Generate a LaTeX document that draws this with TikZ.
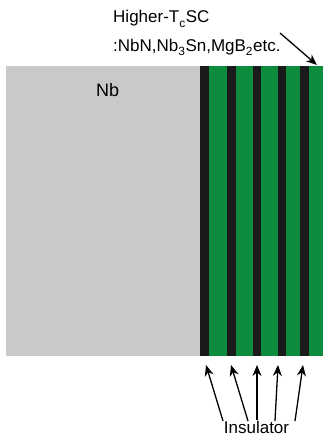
\documentclass[tikz,border=0pt]{standalone}
\usepackage{fontspec}
\setmainfont{Liberation Sans}
\usetikzlibrary{arrows.meta}
\definecolor{nbgray}{RGB}{201,201,201}
\definecolor{scgreen}{RGB}{14,140,62}
\definecolor{insblack}{RGB}{26,26,26}
\tikzset{
  blockbox/.style={anchor=north west, inner sep=0pt, outer sep=0pt, minimum height=290pt},
  stripebox/.style={blockbox, fill=insblack},
  lbl/.style={inner sep=0pt, anchor=base west, font=\fontsize{17}{20}\selectfont},
  arr/.style={draw=black, line width=1.3pt, -{Stealth[length=11pt,width=9pt]}}
}
\begin{document}
\begin{tikzpicture}[x=1pt,y=-1pt]
\useasboundingbox (0,0) rectangle (324,436);
% Nb block
\node[blockbox, fill=nbgray, minimum width=194pt] (nb) at (6,66) {};
% higher-Tc SC block
\node[blockbox, fill=scgreen, minimum width=123pt] (sc) at (200,66) {};
% insulator stripes
\node[stripebox, minimum width=9pt] (s1) at (200,66) {};
\node[stripebox, minimum width=8.5pt] (s2) at (227,66) {};
\node[stripebox, minimum width=8.5pt] (s3) at (252.5,66) {};
\node[stripebox, minimum width=8.5pt] (s4) at (277.5,66) {};
\node[stripebox, minimum width=8.5pt] (s5) at (300,66) {};
% labels
\node[lbl, font=\fontsize{18}{20}\selectfont] (nblbl) at (96,96) {Nb};
\node[lbl] (sc1) at (113,23) {Higher-T\raisebox{-2pt}{\textsubscript{c}}SC};
\node[lbl] (sc2) at (113,52) {:NbN,Nb\raisebox{-1pt}{\textsubscript{3}}Sn,MgB\raisebox{-1pt}{\textsubscript{2}}etc.};
\node[lbl, anchor=base] (ins) at (256.5,433.5) {Insulator};
% top arrow
\coordinate (tstart) at (280,33);
\coordinate (ttip) at (317,65);
\draw[arr] (tstart) -- (ttip);
% bottom arrows
\coordinate (b1) at (223,421);
\coordinate (b2) at (248,421);
\coordinate (b3) at (257,420);
\coordinate (b4) at (275,421);
\coordinate (b5) at (295,421);
\coordinate (t1) at (206,365);
\coordinate (t2) at (231,365);
\coordinate (t3) at (257,365);
\coordinate (t4) at (278,365);
\coordinate (t5) at (303,365);
\foreach \i in {1,...,5} {\draw[arr] (b\i) -- (t\i);}
\end{tikzpicture}
\end{document}
